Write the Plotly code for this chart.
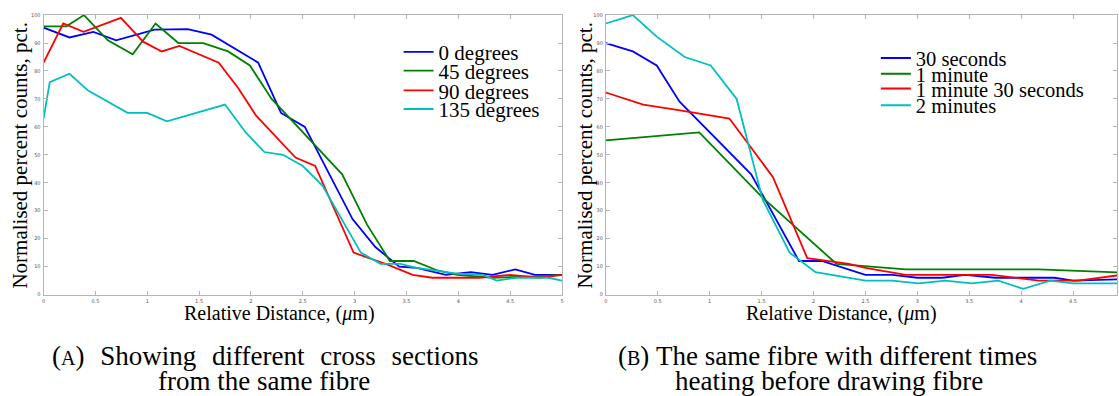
import plotly.graph_objects as go

W, H = 1119, 396

# ---------------- Data: panel A (cross sections) ----------------
a_names = ["0 degrees", "45 degrees", "90 degrees", "135 degrees"]
a0_x = [0, 0.25, 0.48, 0.70, 1.07, 1.39, 1.62, 2.07, 2.29, 2.52, 2.98, 3.2, 3.43, 3.6, 3.88, 4.12, 4.33, 4.55, 4.74, 5.0]
a0_y = [95.5, 92, 94, 91, 94.8, 95, 93, 83, 65, 60, 27, 17, 10, 9.5, 7, 8, 7, 9, 7, 7]
a45_x = [0, 0.22, 0.39, 0.62, 0.86, 1.08, 1.30, 1.54, 1.78, 1.99, 2.2, 2.88, 3.12, 3.34, 3.57, 3.80, 3.99, 4.33, 4.75, 5.0]
a45_y = [96, 96, 100, 91, 86, 97, 90, 90, 87, 82, 70, 43, 25, 12, 12, 8.6, 7, 6, 6.5, 7]
a90_x = [0, 0.19, 0.385, 0.746, 0.96, 1.14, 1.31, 1.69, 1.875, 2.05, 2.43, 2.62, 2.99, 3.33, 3.56, 3.75, 4.2, 4.5, 4.78, 5.0]
a90_y = [83, 97, 94, 99, 90.5, 87, 89, 83, 74, 64, 49, 46, 15, 10.5, 7, 6, 6, 7, 6, 7]
a135_x = [0, 0.06, 0.25, 0.43, 0.81, 1.0, 1.19, 1.75, 1.95, 2.13, 2.31, 2.5, 2.69, 3.06, 3.25, 3.44, 3.6, 3.99, 4.24, 4.37, 4.56, 4.87, 5.0]
a135_y = [63, 76, 79, 73, 65, 65, 62, 68, 58, 51, 50, 46, 39, 15, 11, 11, 9.5, 7.5, 7, 5, 6, 6, 5]

# ---------------- Data: panel B (heating times) ----------------
b_names = ["30 seconds", "1 minute", "1 minute 30 seconds", "2 minutes"]
b30s_x = [0, 0.26, 0.49, 0.71, 1.40, 1.86, 2.08, 2.34, 2.5, 2.76, 3.0, 3.24, 3.46, 3.75, 4.32, 4.5, 4.92, 5.0]
b30s_y = [90, 87, 82, 69, 43, 12, 12, 9, 7, 7, 6, 6, 7, 6, 6, 5, 5.5, 5.5]
b1m_x = [0, 0.9, 1.5, 2.22, 2.89, 4.17, 5.0]
b1m_y = [55.2, 58, 35, 11, 9, 9, 7.8]
b1m30_x = [0, 0.36, 0.7, 1.19, 1.61, 1.94, 2.34, 2.5, 2.89, 3.72, 4.17, 4.55, 4.92, 5.0]
b1m30_y = [72.3, 68, 66, 63, 42, 13, 11, 9.5, 7, 7, 5, 5, 6.8, 7]
b2m_x = [0, 0.26, 0.49, 0.76, 1.01, 1.26, 1.51, 1.77, 2.02, 2.34, 2.5, 2.76, 3.01, 3.27, 3.52, 3.78, 4.02, 4.28, 4.5, 4.92, 5.0]
b2m_y = [97, 100, 92.3, 85, 82, 70, 34, 15, 8, 6, 5, 5, 4, 5, 4, 5, 2, 5, 4, 4, 4]

colors = ["#0000ff", "#008000", "#ff0000", "#00bfbf"]

x_ticks = [0, 0.5, 1, 1.5, 2, 2.5, 3, 3.5, 4, 4.5, 5]
x_ticklabels = ["0", "0.5", "1", "1.5", "2", "2.5", "3", "3.5", "4", "4.5", "5"]
y_ticks = [0, 10, 20, 30, 40, 50, 60, 70, 80, 90, 100]

x_title = "Relative Distance, (<i>μ</i>m)"
y_title = "Normalised percent counts, pct."

SERIF = "Liberation Serif"


def px(x):
    return x / W


def py(y):
    return 1 - y / H


fig = go.Figure()

# legend rows (pixel centres) for the two tight, LaTeX-style legends
a_leg_rows = [50, 69, 89, 108]
b_leg_rows = [56, 72, 87, 104]

legend_layout = {}
k = 1

a_series = [(a0_x, a0_y), (a45_x, a45_y), (a90_x, a90_y), (a135_x, a135_y)]
for (xs, ys), name, c, row in zip(a_series, a_names, colors, a_leg_rows):
    lname = "legend" if k == 1 else f"legend{k}"
    fig.add_trace(go.Scatter(x=xs, y=ys, name=name, mode="lines",
                             line=dict(color=c, width=1.8),
                             xaxis="x", yaxis="y", legend=lname))
    legend_layout[lname] = dict(x=px(398), y=py(row), xanchor="left", yanchor="middle",
                                font=dict(family=SERIF, size=21, color="black"),
                                bgcolor="rgba(0,0,0,0)", itemwidth=30, borderwidth=0)
    k += 1

b_series = [(b30s_x, b30s_y), (b1m_x, b1m_y), (b1m30_x, b1m30_y), (b2m_x, b2m_y)]
for (xs, ys), name, c, row in zip(b_series, b_names, colors, b_leg_rows):
    lname = f"legend{k}"
    fig.add_trace(go.Scatter(x=xs, y=ys, name=name, mode="lines",
                             line=dict(color=c, width=1.8),
                             xaxis="x2", yaxis="y2", legend=lname))
    legend_layout[lname] = dict(x=px(877), y=py(row), xanchor="left", yanchor="middle",
                                font=dict(family=SERIF, size=20.5, color="black"),
                                bgcolor="rgba(0,0,0,0)", itemwidth=30, borderwidth=0)
    k += 1

left_dom = [px(41.7), px(562)]
right_dom = [px(606), 1.0]
y_dom = [py(296), py(12.3)]

axis_common = dict(
    showgrid=False, zeroline=False, showline=True, linecolor="#b4b4b4", linewidth=1,
    ticks="inside", ticklen=4, tickcolor="#b4b4b4", tickwidth=1,
    tickfont=dict(family="DejaVu Sans", size=5, color="#555555"),
)

fig.update_layout(
    width=W, height=H,
    margin=dict(l=0, r=0, t=0, b=0),
    paper_bgcolor="white", plot_bgcolor="white",
    xaxis=dict(domain=left_dom, anchor="y", range=[0, 5], tickvals=x_ticks, ticktext=x_ticklabels,
               mirror="ticks", ticklabelstandoff=1, **axis_common),
    yaxis=dict(domain=y_dom, anchor="x", range=[0, 100], tickvals=y_ticks,
               mirror="ticks", ticklabelstandoff=1, **axis_common),
    xaxis2=dict(domain=right_dom, anchor="y2", range=[0, (1119 - 606) / 104.2], tickvals=x_ticks,
                ticktext=x_ticklabels, mirror="ticks", ticklabelstandoff=1, **axis_common),
    yaxis2=dict(domain=y_dom, anchor="x2", range=[0, 100], tickvals=y_ticks,
                mirror="ticks", ticklabelstandoff=1, **axis_common),
    showlegend=True,
    **legend_layout,
)

ann = []
# y axis titles
for xc in (18, 585):
    ann.append(dict(text=y_title, x=px(xc), y=py(154), xref="paper", yref="paper",
                    xanchor="center", yanchor="middle", textangle=-90, showarrow=False,
                    font=dict(family=SERIF, size=21, color="black")))
# x axis titles
for xc in (278, 843):
    ann.append(dict(text=x_title, x=px(xc), y=py(315), xref="paper", yref="paper",
                    xanchor="center", yanchor="middle", showarrow=False,
                    font=dict(family=SERIF, size=20, color="black")))

sc = "<span style='font-size:20px'>%s</span>"
nb = "\u00a0"
gap = nb * 2 + "\u200a"
cap_a1 = "(" + sc % "A" + ")" + gap + "Showing" + gap + "different" + gap + "cross" + gap + "sections"
cap_a2 = "from the same fibre"
cap_b1 = "(" + sc % "B" + ")" + nb + "The same fibre with different times"
cap_b2 = "heating before drawing fibre"
for t, xc, yc in [(cap_a1, 264, 358), (cap_a2, 263, 384), (cap_b1, 828, 358), (cap_b2, 830, 384)]:
    ann.append(dict(text=t, x=px(xc), y=py(yc), xref="paper", yref="paper",
                    xanchor="center", yanchor="middle", showarrow=False,
                    font=dict(family=SERIF, size=27, color="black")))

fig.update_layout(annotations=ann)

fig.write_html("out.html")
